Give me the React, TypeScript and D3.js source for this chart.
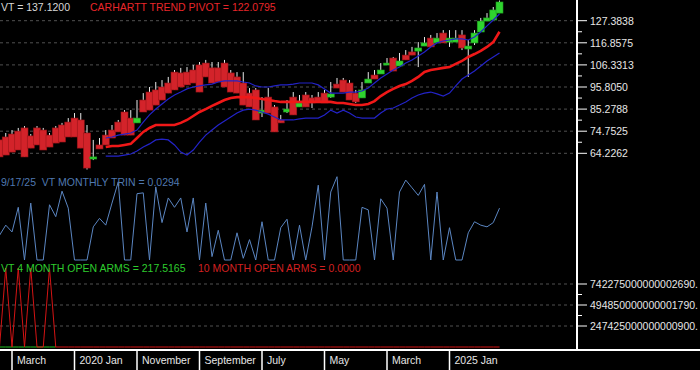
import * as d3 from 'd3';

const WIDTH = 700;
const HEIGHT = 370;
const AXIS_X = 577;
const FONT = '"Liberation Sans", Arial, sans-serif';

// monthly bars, Jan 2019 .. Sep 2025
const months = d3.timeMonth.range(new Date(2019, 0, 1), new Date(2025, 9, 1));

const open = [
  70.6, 72.0, 73.4, 74.8, 76.3, 72.5, 76.3, 75.3, 72.9, 76.3,
  77.7, 79.1, 81.0, 80.1, 73.9, 61.5, 68.2, 72.9, 75.3, 79.1,
  83.9, 81.0, 78.7, 89.6, 93.4, 94.4, 95.8, 97.7, 102.9, 102.5,
  102.9, 103.9, 106.3, 107.2, 104.9, 104.9, 107.2, 102.5, 100.6, 97.7,
  92.9, 94.4, 83.4, 91.0, 86.3, 80.1, 83.9, 91.0, 86.3, 92.0,
  90.6, 91.0, 92.9, 91.0, 97.2, 99.1, 97.7, 92.9, 90.6, 97.7,
  101.5, 102.0, 106.3, 109.6, 105.8, 111.0, 112.5, 112.9, 115.3, 119.1,
  116.8, 121.5, 117.2, 117.2, 120.6, 113.9, 116.8, 122.0, 127.2, 127.7, 131.0,
];
const high = [
  71.5, 73.9, 75.3, 76.3, 77.2, 73.4, 77.2, 76.3, 73.9, 77.2,
  78.7, 81.0, 83.4, 83.4, 77.7, 70.6, 71.5, 75.3, 77.7, 80.1,
  84.8, 84.8, 89.6, 92.9, 95.8, 98.2, 99.1, 100.6, 103.9, 104.9,
  105.3, 106.3, 107.7, 108.7, 107.7, 107.7, 108.7, 103.9, 102.9, 102.9,
  95.3, 95.3, 91.0, 95.3, 87.2, 82.5, 89.6, 93.4, 92.0, 93.4,
  92.0, 93.4, 94.4, 98.2, 100.1, 100.1, 99.1, 94.4, 98.2, 102.9,
  103.9, 107.2, 109.6, 110.1, 112.0, 113.4, 114.9, 117.2, 119.6, 120.6,
  121.5, 122.9, 122.9, 122.9, 122.9, 118.2, 122.9, 128.7, 131.0, 133.9, 137.0,
];
const low = [
  62.5, 63.4, 64.8, 65.8, 62.5, 66.7, 68.2, 65.8, 67.2, 69.1,
  69.6, 72.0, 72.0, 66.7, 56.5, 61.0, 66.3, 68.2, 71.5, 74.4,
  72.9, 72.9, 78.7, 83.9, 84.8, 87.2, 89.6, 92.9, 94.4, 95.8,
  96.8, 97.7, 93.4, 100.6, 97.7, 98.2, 95.8, 93.4, 92.9, 87.2,
  86.3, 80.1, 81.5, 83.4, 74.4, 78.7, 83.4, 82.5, 86.3, 86.3,
  85.8, 88.7, 88.2, 90.6, 95.3, 93.4, 89.6, 88.2, 90.6, 97.7,
  99.6, 102.0, 106.3, 103.4, 105.8, 108.7, 111.0, 105.3, 115.3, 114.9,
  116.8, 116.8, 114.9, 117.2, 113.4, 100.6, 115.8, 122.0, 127.2, 127.7, 131.0,
];
const close = [
  62.5, 63.4, 64.8, 65.8, 62.5, 66.7, 68.2, 65.8, 67.2, 69.1,
  69.6, 72.0, 72.0, 66.7, 57.2, 62.5, 66.3, 68.2, 71.5, 74.4,
  72.9, 72.9, 81.0, 83.9, 84.8, 87.2, 89.6, 92.9, 94.4, 95.8,
  96.8, 97.7, 93.4, 100.6, 97.7, 98.2, 95.8, 93.4, 92.9, 87.2,
  86.3, 80.1, 84.8, 83.4, 74.4, 78.7, 85.3, 82.5, 88.2, 86.3,
  88.2, 88.7, 88.2, 92.5, 95.3, 93.4, 89.6, 88.7, 94.4, 99.6,
  99.6, 103.9, 107.2, 103.4, 108.2, 108.7, 111.0, 114.4, 116.8, 114.9,
  119.1, 116.8, 119.1, 119.1, 114.4, 115.3, 121.5, 127.2, 128.7, 132.5, 136.3,
];

// pivot and bands start at Jun 2020 (index 17)
const LINE_START = 17;
const pivot = [
  67.2, 67.7, 67.7, 68.2, 68.7, 71.5, 74.4, 76.3, 77.7, 77.7,
  77.7, 77.7, 78.7, 80.1, 82.0, 83.9, 85.3, 86.8, 88.2, 89.6,
  90.6, 91.0, 91.0, 91.0, 90.6, 90.1, 89.6, 89.1, 88.7, 88.7,
  88.7, 88.7, 88.7, 88.7, 88.7, 88.7, 88.7, 88.2, 88.2, 87.7,
  87.2, 87.2, 87.7, 89.1, 91.5, 93.4, 94.9, 96.3, 97.2, 98.7,
  100.6, 103.0, 103.9, 104.4, 104.9, 105.3, 106.8, 108.2, 110.1, 111.5,
  113.0, 114.9, 117.2, 122.1,
];
const bandUpper = [
  71.5, 72.0, 72.9, 73.4, 73.9, 75.3, 79.1, 82.5, 85.3, 87.7,
  90.1, 92.0, 93.4, 94.9, 95.8, 96.3, 96.8, 97.2, 98.2, 98.7,
  98.7, 98.7, 98.2, 97.7, 96.3, 95.8, 95.8, 96.3, 96.8, 96.8,
  97.2, 97.7, 97.7, 97.7, 96.8, 94.9, 92.9, 92.9, 92.9, 93.4,
  93.4, 93.9, 95.3, 97.7, 100.1, 102.0, 103.9, 105.3, 107.2, 108.7,
  110.6, 112.5, 114.9, 116.8, 117.7, 118.2, 118.7, 118.7, 118.2, 119.6,
  122.0, 124.9, 127.7, 130.6,
];
const bandLower = [
  62.9, 62.9, 62.9, 63.4, 63.9, 65.3, 67.2, 68.7, 70.6, 71.0,
  70.6, 68.2, 64.8, 63.4, 65.8, 69.6, 72.9, 75.3, 77.7, 79.6,
  81.5, 83.4, 84.8, 85.3, 84.8, 83.9, 82.9, 81.5, 80.1, 80.1,
  80.1, 80.6, 81.0, 81.0, 81.0, 82.5, 84.8, 83.4, 84.8, 83.4,
  81.5, 81.0, 81.0, 81.0, 83.4, 85.3, 85.8, 87.2, 88.7, 90.6,
  92.0, 92.9, 93.4, 92.5, 91.5, 92.9, 96.3, 99.6, 101.5, 103.4,
  105.8, 108.2, 110.1, 112.0,
];

const trin = [
  0.29, 0.41, 0.33, 0.62, 0, 0.67, 0, 0, 0.65, 0.51,
  0.81, 0.61, 0, 0, 0, 0.39, 0.49, 0.41, 0.67, 0.92,
  0, 0, 0.78, 0.79, 0, 0.86, 0.44, 0.73, 0.62, 0.73,
  0.33, 0.73, 0, 0.67, 0.04, 0.35, 0, 0, 0.32, 0.02,
  0.24, 0, 0.45, 0, 0, 0.38, 0.48, 0, 0.41, 0,
  0.39, 0.88, 0, 0.80, 0.98, 0, 0, 0, 0.62, 0.59,
  0, 0.72, 0.61, 0, 0.80, 0.94, 0.85, 0.76, 0.89, 0,
  0.80, 0, 0.38, 0, 0, 0.32, 0.45, 0.41, 0.39, 0.44, 0.61,
];

const arms10 = [
  0, 9.3e17, 0, 9.3e17, 0, 9.3e17, 0, 0, 9.3e17, 0,
  0, 0, 0, 0, 0, 0, 0, 0, 0, 0,
  0, 0, 0, 0, 0, 0, 0, 0, 0, 0,
  0, 0, 0, 0, 0, 0, 0, 0, 0, 0,
  0, 0, 0, 0, 0, 0, 0, 0, 0, 0,
  0, 0, 0, 0, 0, 0, 0, 0, 0, 0,
  0, 0, 0, 0, 0, 0, 0, 0, 0, 0,
  0, 0, 0, 0, 0, 0, 0, 0, 0, 0, 0,
];
const arms4 = [0, 0, 0, 0, 0, 0, 0, 0, 0, 0];

const priceTicks = [127.3838, 116.8575, 106.3313, 95.8050, 85.2788, 74.7525, 64.2262];
const armsTicks = [742275000000002690, 494850000000001790, 247425000000000900];
const armsTickLabels = ['742275000000002690.', '494850000000001790.', '247425000000000900.'];
const dateTicks = [
  new Date(2019, 2, 1), new Date(2020, 0, 1), new Date(2020, 10, 1), new Date(2021, 8, 1),
  new Date(2022, 6, 1), new Date(2023, 4, 1), new Date(2024, 2, 1), new Date(2025, 0, 1),
];
const dateTickLabels = ['March', '2020 Jan', 'November', 'September', 'July', 'May', 'March', '2025 Jan'];

function App() {
  const x = d3.scalePoint<number>()
    .domain(months.map((m) => +m))
    .range([-0.5, 499.5]);
  const xi = (i: number) => x(+months[i]) as number;

  const yPrice = d3.scaleLinear().domain([64.2262, 127.3838]).range([153.3, 20.7]);
  const yTrin = d3.scaleLinear().domain([0, 1]).range([260, 175]);
  const yArms = d3.scaleLinear().domain([0, 742275000000002690]).range([347, 284]);

  const priceLine = (start: number) => d3.line<number>()
    .x((_, i) => xi(i + start))
    .y((d) => yPrice(d));
  const trinLine = d3.line<number>().x((_, i) => xi(i)).y((d) => yTrin(d));
  const armsLine = d3.line<number>().x((_, i) => xi(i)).y((d) => yArms(d));

  const priceMinor = d3.pairs(priceTicks).map(([a, b]) => (yPrice(a) + yPrice(b)) / 2);
  const armsMinor = d3.pairs(armsTicks).map(([a, b]) => (yArms(a) + yArms(b)) / 2);

  const bodyW = 7;

  return (
    <svg
      width={WIDTH}
      height={HEIGHT}
      style={{ position: 'fixed', left: 0, top: 0, background: '#000', display: 'block' }}
      fontFamily={FONT}
      fontSize={10.5}
    >
      <rect width={WIDTH} height={HEIGHT} fill="#000" />
      <defs>
        <clipPath id="plot">
          <rect x={0} y={0} width={AXIS_X - 1} height={349} />
        </clipPath>
      </defs>

      {/* grid */}
      {priceTicks.map((t) => (
        <line key={`g${t}`} x1={0} x2={AXIS_X} y1={yPrice(t)} y2={yPrice(t)}
          stroke="#505050" strokeDasharray="3,3" />
      ))}
      {armsTicks.map((t) => (
        <line key={`ga${t}`} x1={0} x2={AXIS_X} y1={yArms(t)} y2={yArms(t)}
          stroke="#505050" strokeDasharray="3,3" />
      ))}

      <g clipPath="url(#plot)">
        {/* candles */}
        {open.map((o, i) => (
          <line key={`w${i}`} x1={xi(i)} x2={xi(i)} y1={yPrice(high[i])} y2={yPrice(low[i])}
            stroke="#e8e8e8" strokeWidth={1} />
        ))}
        {open.map((o, i) => {
          const c = close[i];
          const top = yPrice(Math.max(o, c));
          const bot = yPrice(Math.min(o, c));
          const up = c >= o;
          return (
            <rect key={`b${i}`} x={xi(i) - bodyW / 2} y={top} width={bodyW}
              height={Math.max(2, bot - top)}
              fill={up ? '#2fd42f' : '#d3232a'}
              stroke={up ? '#1f9a1f' : '#9a1418'} strokeWidth={0.6} />
          );
        })}

        <path d={priceLine(LINE_START)(bandUpper) || ''} fill="none" stroke="#2323c8" strokeWidth={1.2} />
        <path d={priceLine(LINE_START)(bandLower) || ''} fill="none" stroke="#2323c8" strokeWidth={1.2} />
        <path d={priceLine(LINE_START)(pivot) || ''} fill="none" stroke="#f01818" strokeWidth={2.6} />

        <path d={trinLine(trin) || ''} fill="none" stroke="#5b86c2" strokeWidth={1} />

        <path d={armsLine(arms4) || ''} fill="none" stroke="#22c022" strokeWidth={1} />
        <path d={armsLine(arms10) || ''} fill="none" stroke="#d41414" strokeWidth={1} />
      </g>

      {/* right axis */}
      <line x1={AXIS_X} x2={AXIS_X} y1={0} y2={349} stroke="#fff" strokeWidth={2} />
      {priceTicks.map((t) => (
        <g key={`t${t}`}>
          <line x1={AXIS_X} x2={AXIS_X + 10} y1={yPrice(t)} y2={yPrice(t)} stroke="#fff" />
          <text x={590} y={yPrice(t) + 4} fill="#e6e6e6">{t.toFixed(4)}</text>
        </g>
      ))}
      {priceMinor.map((y) => (
        <line key={`m${y}`} x1={AXIS_X} x2={AXIS_X + 5} y1={y} y2={y} stroke="#fff" />
      ))}
      {armsTicks.map((t, i) => (
        <g key={`ta${t}`}>
          <line x1={AXIS_X} x2={AXIS_X + 10} y1={yArms(t)} y2={yArms(t)} stroke="#fff" />
          <text x={590} y={yArms(t) + 4} fill="#e6e6e6">{armsTickLabels[i]}</text>
        </g>
      ))}
      {armsMinor.map((y) => (
        <line key={`ma${y}`} x1={AXIS_X} x2={AXIS_X + 5} y1={y} y2={y} stroke="#fff" />
      ))}

      {/* date axis */}
      <rect x={0} y={349} width={WIDTH} height={2} fill="#fff" />
      {dateTicks.map((d, i) => {
        const px = x(+d) as number;
        return (
          <g key={`d${i}`}>
            <line x1={px} x2={px} y1={350} y2={HEIGHT} stroke="#fff" strokeWidth={1.5} />
            <text x={px + 5} y={364} fill="#e6e6e6">{dateTickLabels[i]}</text>
          </g>
        );
      })}

      {/* legends */}
      <text x={1} y={11} fill="#d8d8d8">VT = 137.1200</text>
      <text x={90} y={11} fill="#e8262a">CARHARTT TREND PIVOT = 122.0795</text>
      <text x={1} y={185.5} fill="#4f78b0" style={{ whiteSpace: 'pre' }}>{'9/17/25  VT MONTHLY TRIN = 0.0294'}</text>
      <text x={1} y={272} fill="#2ecc2e">VT 4 MONTH OPEN ARMS = 217.5165</text>
      <text x={198} y={272} fill="#d42020">10 MONTH OPEN ARMS = 0.0000</text>
    </svg>
  );
}

export default App;
